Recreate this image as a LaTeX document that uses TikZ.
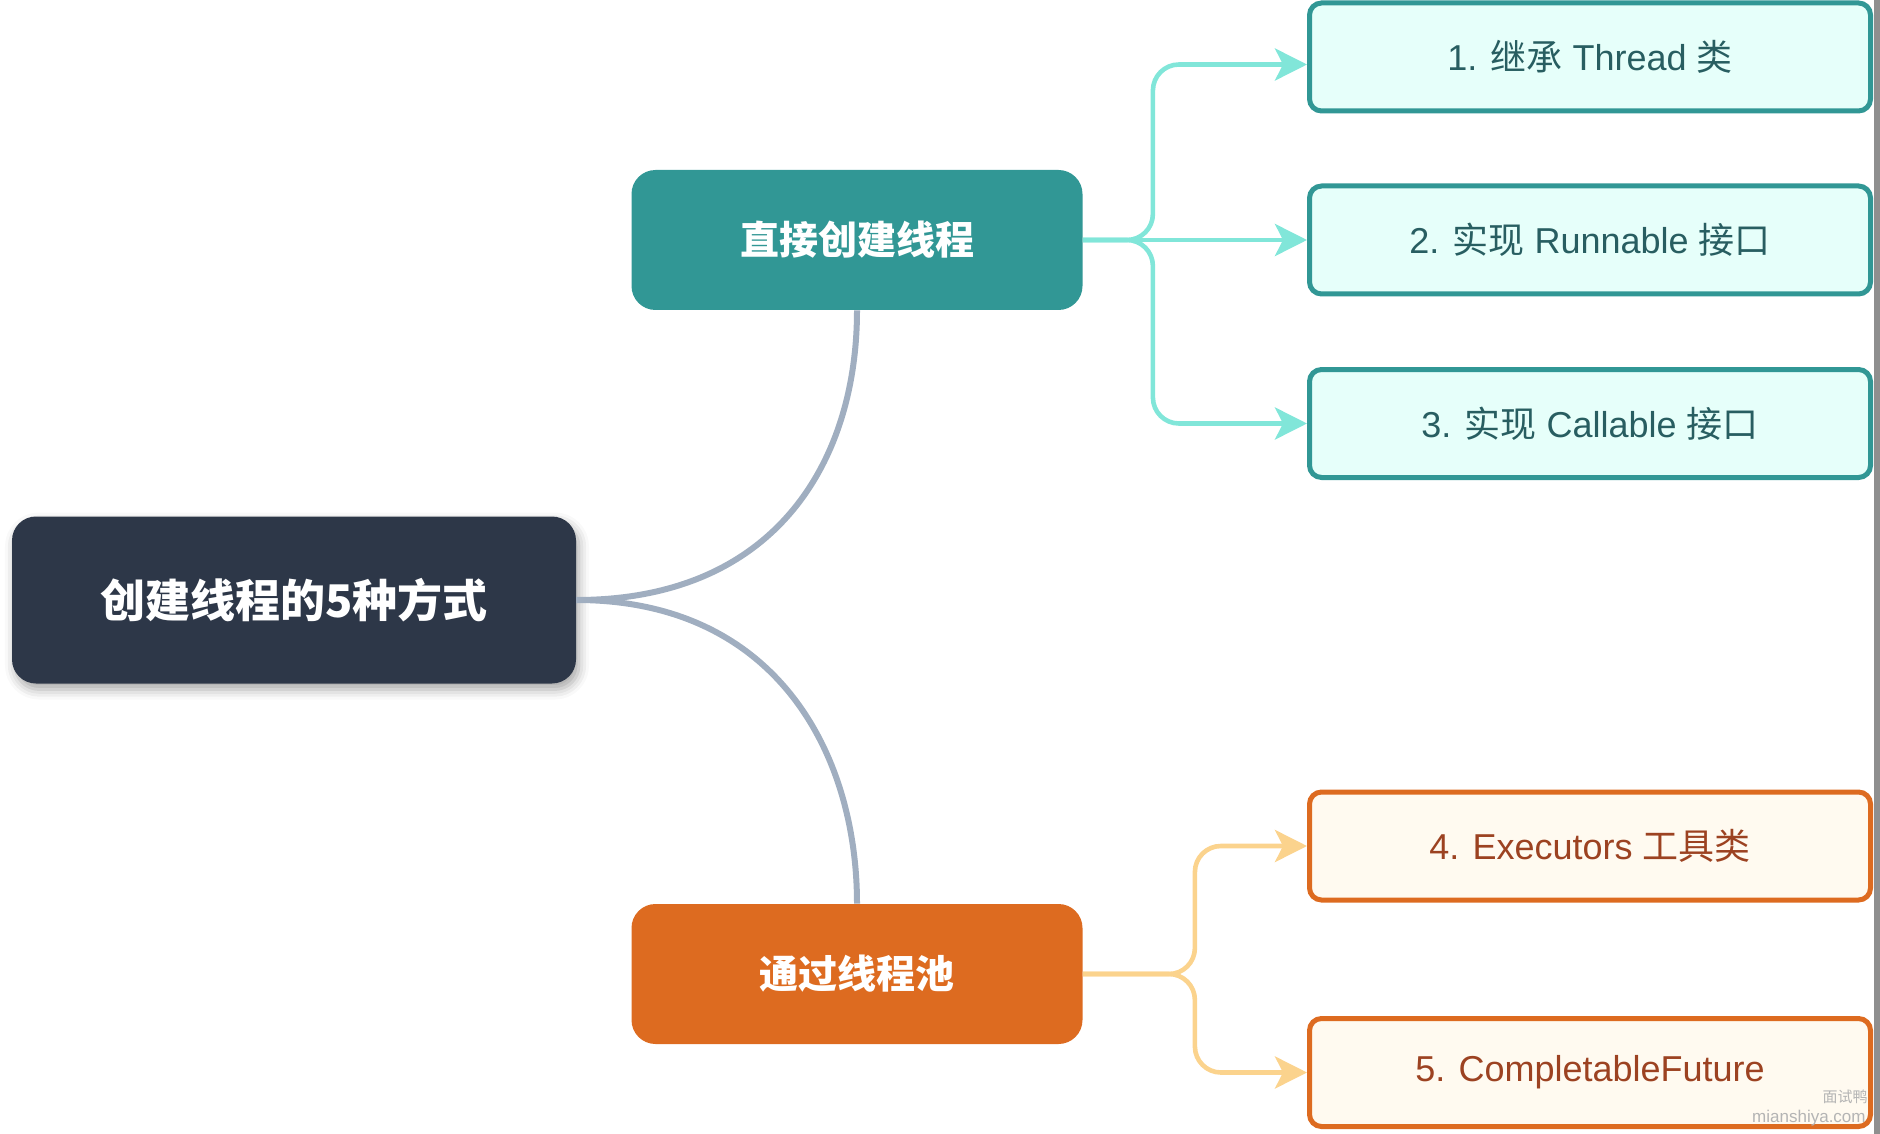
\documentclass[tikz,border=0pt]{standalone}
\usepackage{fontspec}
\setmainfont{Liberation Sans}
\newfontfamily\cjk{Noto Sans CJK SC}
\usepackage{tikz}
\usetikzlibrary{arrows.meta,positioning,shadows.blur}
\definecolor{cRoot}{HTML}{2D3748}
\definecolor{cTrunk}{HTML}{A0AEC0}
\definecolor{cTeal}{HTML}{319795}
\definecolor{cTealSoft}{HTML}{E6FFFA}
\definecolor{cTealText}{HTML}{285E61}
\definecolor{cTealLine}{HTML}{81E6D9}
\definecolor{cOrange}{HTML}{DD6B20}
\definecolor{cOrangeSoft}{HTML}{FFFAF0}
\definecolor{cOrangeText}{HTML}{9C4221}
\definecolor{cOrangeLine}{HTML}{FBD38D}
\definecolor{cEdge}{HTML}{8F8F8F}
\definecolor{cMark}{HTML}{B4B4B4}
\newcommand\zh[1]{{\cjk #1}}
\tikzset{
  rootbox/.style = {rectangle, rounded corners=12pt, fill=cRoot, text=white,
                    minimum width=282pt, minimum height=83.5pt,
                    font=\cjk\bfseries\fontsize{22.5}{27}\selectfont,
                    blur shadow={shadow xshift=1.5pt, shadow yshift=-3pt,
                                 shadow blur radius=5pt, shadow opacity=35}},
  midbox/.style  = {rectangle, rounded corners=12pt, fill=#1, text=white,
                    minimum width=225.5pt, minimum height=70pt,
                    font=\cjk\bfseries\fontsize{19.5}{23}\selectfont},
  leaf/.style    = {rectangle, rounded corners=6pt, draw=#1, line width=2.5pt,
                    minimum width=280.5pt, minimum height=54pt,
                    font=\fontsize{18}{22}\selectfont},
  tleaf/.style   = {leaf=cTeal, fill=cTealSoft, text=cTealText},
  oleaf/.style   = {leaf=cOrange, fill=cOrangeSoft, text=cOrangeText},
  trunk/.style   = {draw=cTrunk, line width=3pt},
  br/.style      = {-{Stealth[length=16pt, width=16pt, inset=4pt]}, draw=#1,
                    line width=2.3pt, rounded corners=13pt},
  wmark/.style   = {anchor=east, text=cMark, inner sep=0pt},
}

\begin{document}
\begin{tikzpicture}
  \useasboundingbox (0,0) rectangle (940pt,-567pt);
  \fill[cEdge] (937pt,0) rectangle (940pt,-567pt);

  \node[rootbox] (root) at (147pt,-300pt) {创建线程的5种方式};
  \node[midbox=cTeal] (direct) at (428.5pt,-120pt) {直接创建线程};
  \node[midbox=cOrange] (pool) at (428.5pt,-487pt) {通过线程池};

  \node[tleaf] (t1) at (795pt,-28.5pt) {1. \zh{继承} Thread \zh{类}};
  \node[tleaf] (t2) at (795pt,-120pt) {2. \zh{实现} Runnable \zh{接口}};
  \node[tleaf] (t3) at (795pt,-211.75pt) {3. \zh{实现} Callable \zh{接口}};
  \node[oleaf] (o4) at (795pt,-423pt) {4. Executors \zh{工具类}};
  \node[oleaf] (o5) at (795pt,-536.25pt) {5. CompletableFuture};

  % trunk curves
  \draw[trunk] (root.east) .. controls +(100pt,0) and +(0,-75pt) .. (direct.south);
  \draw[trunk] (root.east) .. controls +(100pt,0) and +(0,75pt) .. (pool.north);

  % branches
  \draw[br=cTealLine] (direct.east) -- ++(35pt,0) |- ([yshift=-3.75pt]t1.west);
  \draw[br=cTealLine] (direct.east) -- (t2.west);
  \draw[br=cTealLine] (direct.east) -- ++(35pt,0) |- (t3.west);
  \draw[br=cOrangeLine] (pool.east) -- ++(56pt,0) |- (o4.west);
  \draw[br=cOrangeLine] (pool.east) -- ++(56pt,0) |- (o5.west);

  \node[wmark, font=\cjk\fontsize{7.5}{9}\selectfont] (wm1) at (934pt,-548.5pt) {面试鸭};
  \node[wmark, font=\fontsize{8.5}{10}\selectfont] (wm2) at (933pt,-559pt) {mianshiya.com};
\end{tikzpicture}
\end{document}
